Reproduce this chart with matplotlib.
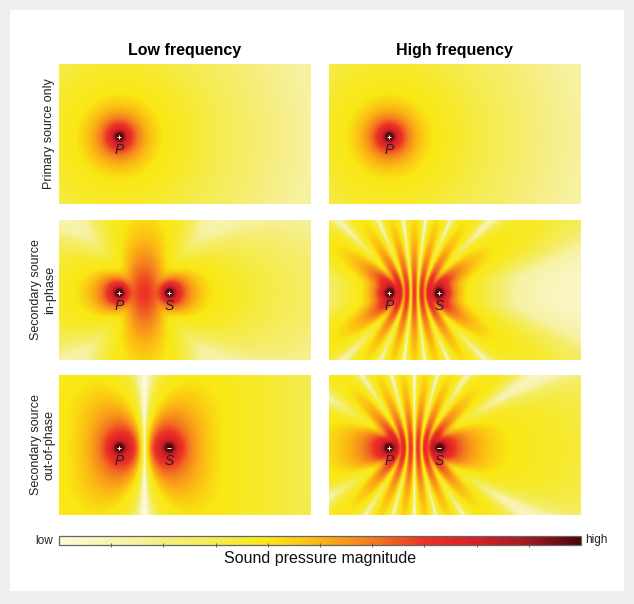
import matplotlib
matplotlib.use("Agg")
import matplotlib.pyplot as plt
import numpy as np
from matplotlib.cm import ScalarMappable
from matplotlib.colors import LinearSegmentedColormap, Normalize
from matplotlib.patches import Rectangle

plt.rcParams['font.family'] = ['Liberation Sans', 'DejaVu Sans']

W, H = 634, 604

col_titles = ["Low frequency", "High frequency"]
row_titles = ["Primary source only", "Secondary source\nin-phase", "Secondary source\nout-of-phase"]

# in reference pixels relative to P
source_gap = 50
wavelengths = [70, 14.3]
row_signs = [0, 1, -1]   # 0 = no secondary source

# colour level against distance from one source
level_dist = [1, 4, 6, 12, 22, 32, 44, 70, 100, 130, 190, 1000]
level_value = [1.0, 0.97, 0.85, 0.71, 0.56, 0.47, 0.40, 0.36, 0.30, 0.25, 0.14, 0.0]

cbar_stops = [0, 0.1, 0.2, 0.3, 0.4, 0.5, 0.6, 0.7, 0.8, 0.9, 1.0]
cbar_colors = ["#fdfadc", "#f8f4b4", "#f6ee80", "#f5ec50", "#f9e813", "#fcb514",
               "#f37b20", "#ed3324", "#d8202a", "#a01a20", "#4a0508"]
cbar_ticks = cbar_stops[1:-1]

panel_x = [59, 329]
panel_y = [64, 220, 375]
panel_w, panel_h = 251.6, 140
p_offset = 60
p_drop = 73   # distance from panel top down to P

cmap = LinearSegmentedColormap.from_list("spl", list(zip(cbar_stops, cbar_colors)))
norm = Normalize(0, 1)


def px_axes(x, y, w, h):
    return fig.add_axes([x / W, 1 - (y + h) / H, w / W, h / H])


def field(wavelength, sign):
    # The panels are continuous fields, so they are computed from two point
    # sources (|e^ikr/r|); only the parameters above come from the picture.
    x = np.arange(int(panel_w * 2)) / 2 - p_offset
    y = np.arange(panel_h * 2) / 2 - (panel_h - p_drop)
    xx, yy = np.meshgrid(x, y)
    k = 2 * np.pi / wavelength
    r1 = np.maximum(np.hypot(xx, yy), 0.5)
    r2 = np.maximum(np.hypot(xx - source_gap, yy), 0.5)
    p = np.exp(1j * k * r1) / r1 + sign * np.exp(1j * k * r2) / r2
    equiv_r = 1 / np.maximum(np.abs(p), 1e-4)
    return np.interp(np.log(equiv_r), np.log(level_dist), level_value)


fig = plt.figure(figsize=(W / 100, H / 100), dpi=100, facecolor="#eef0ef")
fig.add_artist(Rectangle((10 / W, 1 - 591 / H), 614 / W, 581 / H, transform=fig.transFigure,
                         facecolor="white", edgecolor="none", zorder=-1))

for i, y0 in enumerate(panel_y):
    for j, x0 in enumerate(panel_x):
        ax = px_axes(x0, y0, panel_w, panel_h)
        ax.imshow(field(wavelengths[j], row_signs[i]), cmap=cmap, norm=norm, origin="lower",
                  extent=[-p_offset, panel_w - p_offset, -(panel_h - p_drop), p_drop],
                  aspect="auto", interpolation="bilinear")
        ax.axis("off")
        ax.plot(0, 0, marker="+", color="white", ms=3.5, mew=0.7)
        ax.text(0, -13, "P", style="italic", fontsize=10, ha="center", va="center", color="#222222")
        if row_signs[i] != 0:
            ax.plot(source_gap, 0, marker="+" if row_signs[i] > 0 else "_", color="white", ms=3.5, mew=0.7)
            ax.text(source_gap, -13, "S", style="italic", fontsize=10, ha="center", va="center", color="#222222")
        if i == 0:
            ax.set_title(col_titles[j], fontweight="bold", fontsize=11.5, pad=6.3)
    fig.text((49 if i == 0 else 43) / W, 1 - (y0 + panel_h / 2) / H, row_titles[i], rotation=90,
             fontsize=9, ha="center", va="center", multialignment="center", color="#222222")

cax = px_axes(59, 536, 522, 9)
cb = fig.colorbar(ScalarMappable(norm=norm, cmap=cmap), cax=cax, orientation="horizontal",
                  ticks=cbar_ticks)
cb.ax.tick_params(length=2.5, width=0.6, direction="inout", labelbottom=False, color="#444444")
cb.outline.set_edgecolor("#666666")
cb.outline.set_linewidth(0.9)

fig.text(53 / W, 1 - 540.5 / H, "low", fontsize=8.5, ha="right", va="center", color="#222222")
fig.text(585 / W, 1 - 540.5 / H, "high", fontsize=8.5, ha="left", va="center", color="#222222")
fig.text(320 / W, 1 - 558 / H, "Sound pressure magnitude", fontsize=11.5, ha="center", va="center",
         color="#111111")

fig.savefig("out.png", dpi=100, facecolor=fig.get_facecolor())
